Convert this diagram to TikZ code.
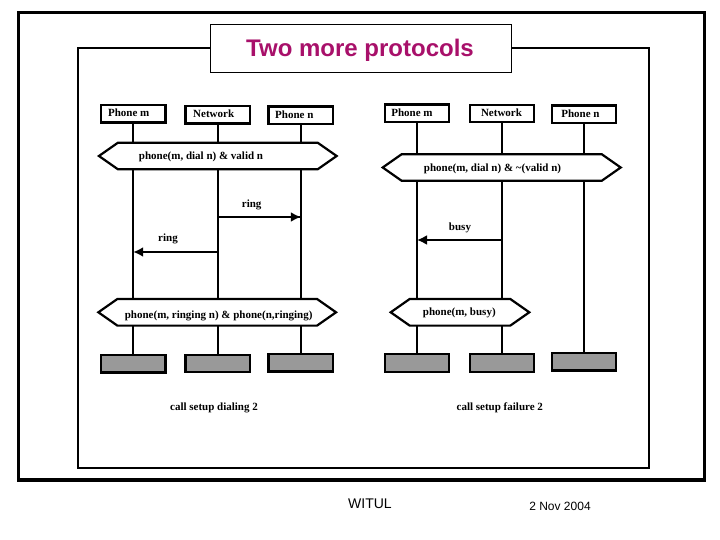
\documentclass[tikz,border=0pt]{standalone}
\usepackage{fontspec}
\setmainfont{Liberation Serif}
\newfontfamily\slidefont{Liberation Sans}
\usetikzlibrary{arrows.meta,shapes.symbols}
\definecolor{titlecol}{HTML}{A8106A}
\tikzset{
	phonebox/.style={draw, line width=2.2pt, minimum width=64.5pt, minimum height=17.5pt, inner sep=0pt, outer sep=0pt},
	endbox/.style={phonebox, fill=black!40},
	msgbar/.style={draw, fill=white, line width=2.2pt, shape=signal, signal to=east and west, signal pointer angle=70, minimum height=26.6pt, inner sep=0pt, outer sep=0pt},
	msgtext/.style={inner sep=0pt, font=\fontsize{11}{12}\selectfont\bfseries},
	lifeline/.style={line width=2.2pt},
	msgarrow/.style={line width=2pt, -{Latex[length=10pt,width=10pt]}},
}

\begin{document}
\begin{tikzpicture}[x=1pt, y=-1pt]
		%%%%% START %%%%%
		\useasboundingbox (0, 0) rectangle (720, 540);
		
		\draw[line width=3.5pt] (18.5, 12.5) rectangle (704.5, 480);
		\draw[line width=2pt] (78, 48) rectangle (649, 467.5);
		\node[draw, fill=white, line width=1pt, minimum width=301pt, minimum height=48pt, inner sep=0pt] (titlebox) at (361, 48.3) {};
		\node[inner sep=0pt, text=titlecol, font=\slidefont\fontsize{24}{28}\selectfont\bfseries] (title) at (360, 50.5) {Two more protocols};
		
		%%%%% left chart
		\node[phonebox] (pma) at (133.2, 113.8) {};
		\node[phonebox] (nwa) at (217.8, 114.8) {};
		\node[phonebox] (pna) at (300.8, 115.3) {};
		\node[endbox] (ema) at (133.2, 363.8) {};
		\node[endbox] (ena) at (217.8, 363.5) {};
		\node[endbox] (eoa) at (300.8, 362.7) {};
		\draw[lifeline] (pma) -- (ema);
		\draw[lifeline] (nwa) -- (ena);
		\draw[lifeline] (pna) -- (eoa);
		
		\node[msgbar, minimum width=237.7pt] (dialbar) at (217.8, 156) {};
		\node[msgbar, minimum width=237.7pt] (ringbar) at (217.2, 312.3) {};
		
		\coordinate (ringnw) at (217.8, 217);
		\coordinate (ringmid) at (265, 217);
		\coordinate (ringpn) at (300.8, 217);
		\coordinate (backnw) at (217.8, 252);
		\coordinate (backpm) at (133.2, 252);
		\draw[msgarrow] (ringnw) -- (ringpn);
		\draw[line width=2.8pt] (ringmid) -- (ringpn);
		\draw[msgarrow] (backnw) -- (backpm);
		
		\node[msgtext] (lpma) at (128.7, 112.3) {Phone m};
		\node[msgtext] (lnwa) at (213.7, 113.3) {Network};
		\node[msgtext] (lpna) at (294.3, 114.7) {Phone n};
		\node[msgtext] (ldial) at (201, 157) {phone(m, dial n) \& valid n};
		\node[msgtext] (lring) at (251.7, 204.5) {ring};
		\node[msgtext] (lback) at (168, 238.5) {ring};
		\node[msgtext] (lringing) at (218.7, 315.8) {phone(m, ringing n) \& phone(n,ringing)};
		\node[msgtext] (lsetup) at (214, 407.5) {call setup dialing 2};
		
		%%%%% right chart
		\node[phonebox] (pmb) at (417, 113.2) {};
		\node[phonebox] (nwb) at (502, 113.6) {};
		\node[phonebox] (pnb) at (584, 114.2) {};
		\node[endbox] (emb) at (417, 363) {};
		\node[endbox] (enb) at (502, 363) {};
		\node[endbox] (eob) at (584, 361.8) {};
		\draw[lifeline] (pmb) -- (emb);
		\draw[lifeline] (nwb) -- (enb);
		\draw[lifeline, line width=2.6pt] (pnb) -- (eob);
		
		\node[msgbar, minimum width=238pt] (failbar) at (501.7, 167.5) {};
		\node[msgbar, minimum width=138.6pt] (busybar) at (460, 312.3) {};
		
		\coordinate (busynw) at (502, 240);
		\coordinate (busypm) at (417, 240);
		\draw[msgarrow] (busynw) -- (busypm);
		
		\node[msgtext] (lpmb) at (412, 112.3) {Phone m};
		\node[msgtext] (lnwb) at (501.5, 112.5) {Network};
		\node[msgtext] (lpnb) at (580.5, 113.7) {Phone n};
		\node[msgtext] (lfail) at (492.5, 168.5) {phone(m, dial n) \& \textasciitilde(valid n)};
		\node[msgtext] (lbusy) at (460, 228.2) {busy};
		\node[msgtext] (lbusym) at (459.3, 312.5) {phone(m, busy)};
		\node[msgtext] (lfailure) at (499.8, 407.5) {call setup failure 2};
		
		%%%%% footer
		\node[inner sep=0pt, font=\slidefont\fontsize{14}{16}\selectfont] (witul) at (370, 503.5) {WITUL};
		\node[inner sep=0pt, font=\slidefont\fontsize{12}{14}\selectfont] (datenode) at (560, 506) {2 Nov 2004};
		
		%%%%% END %%%%%
	\end{tikzpicture}
\end{document}
